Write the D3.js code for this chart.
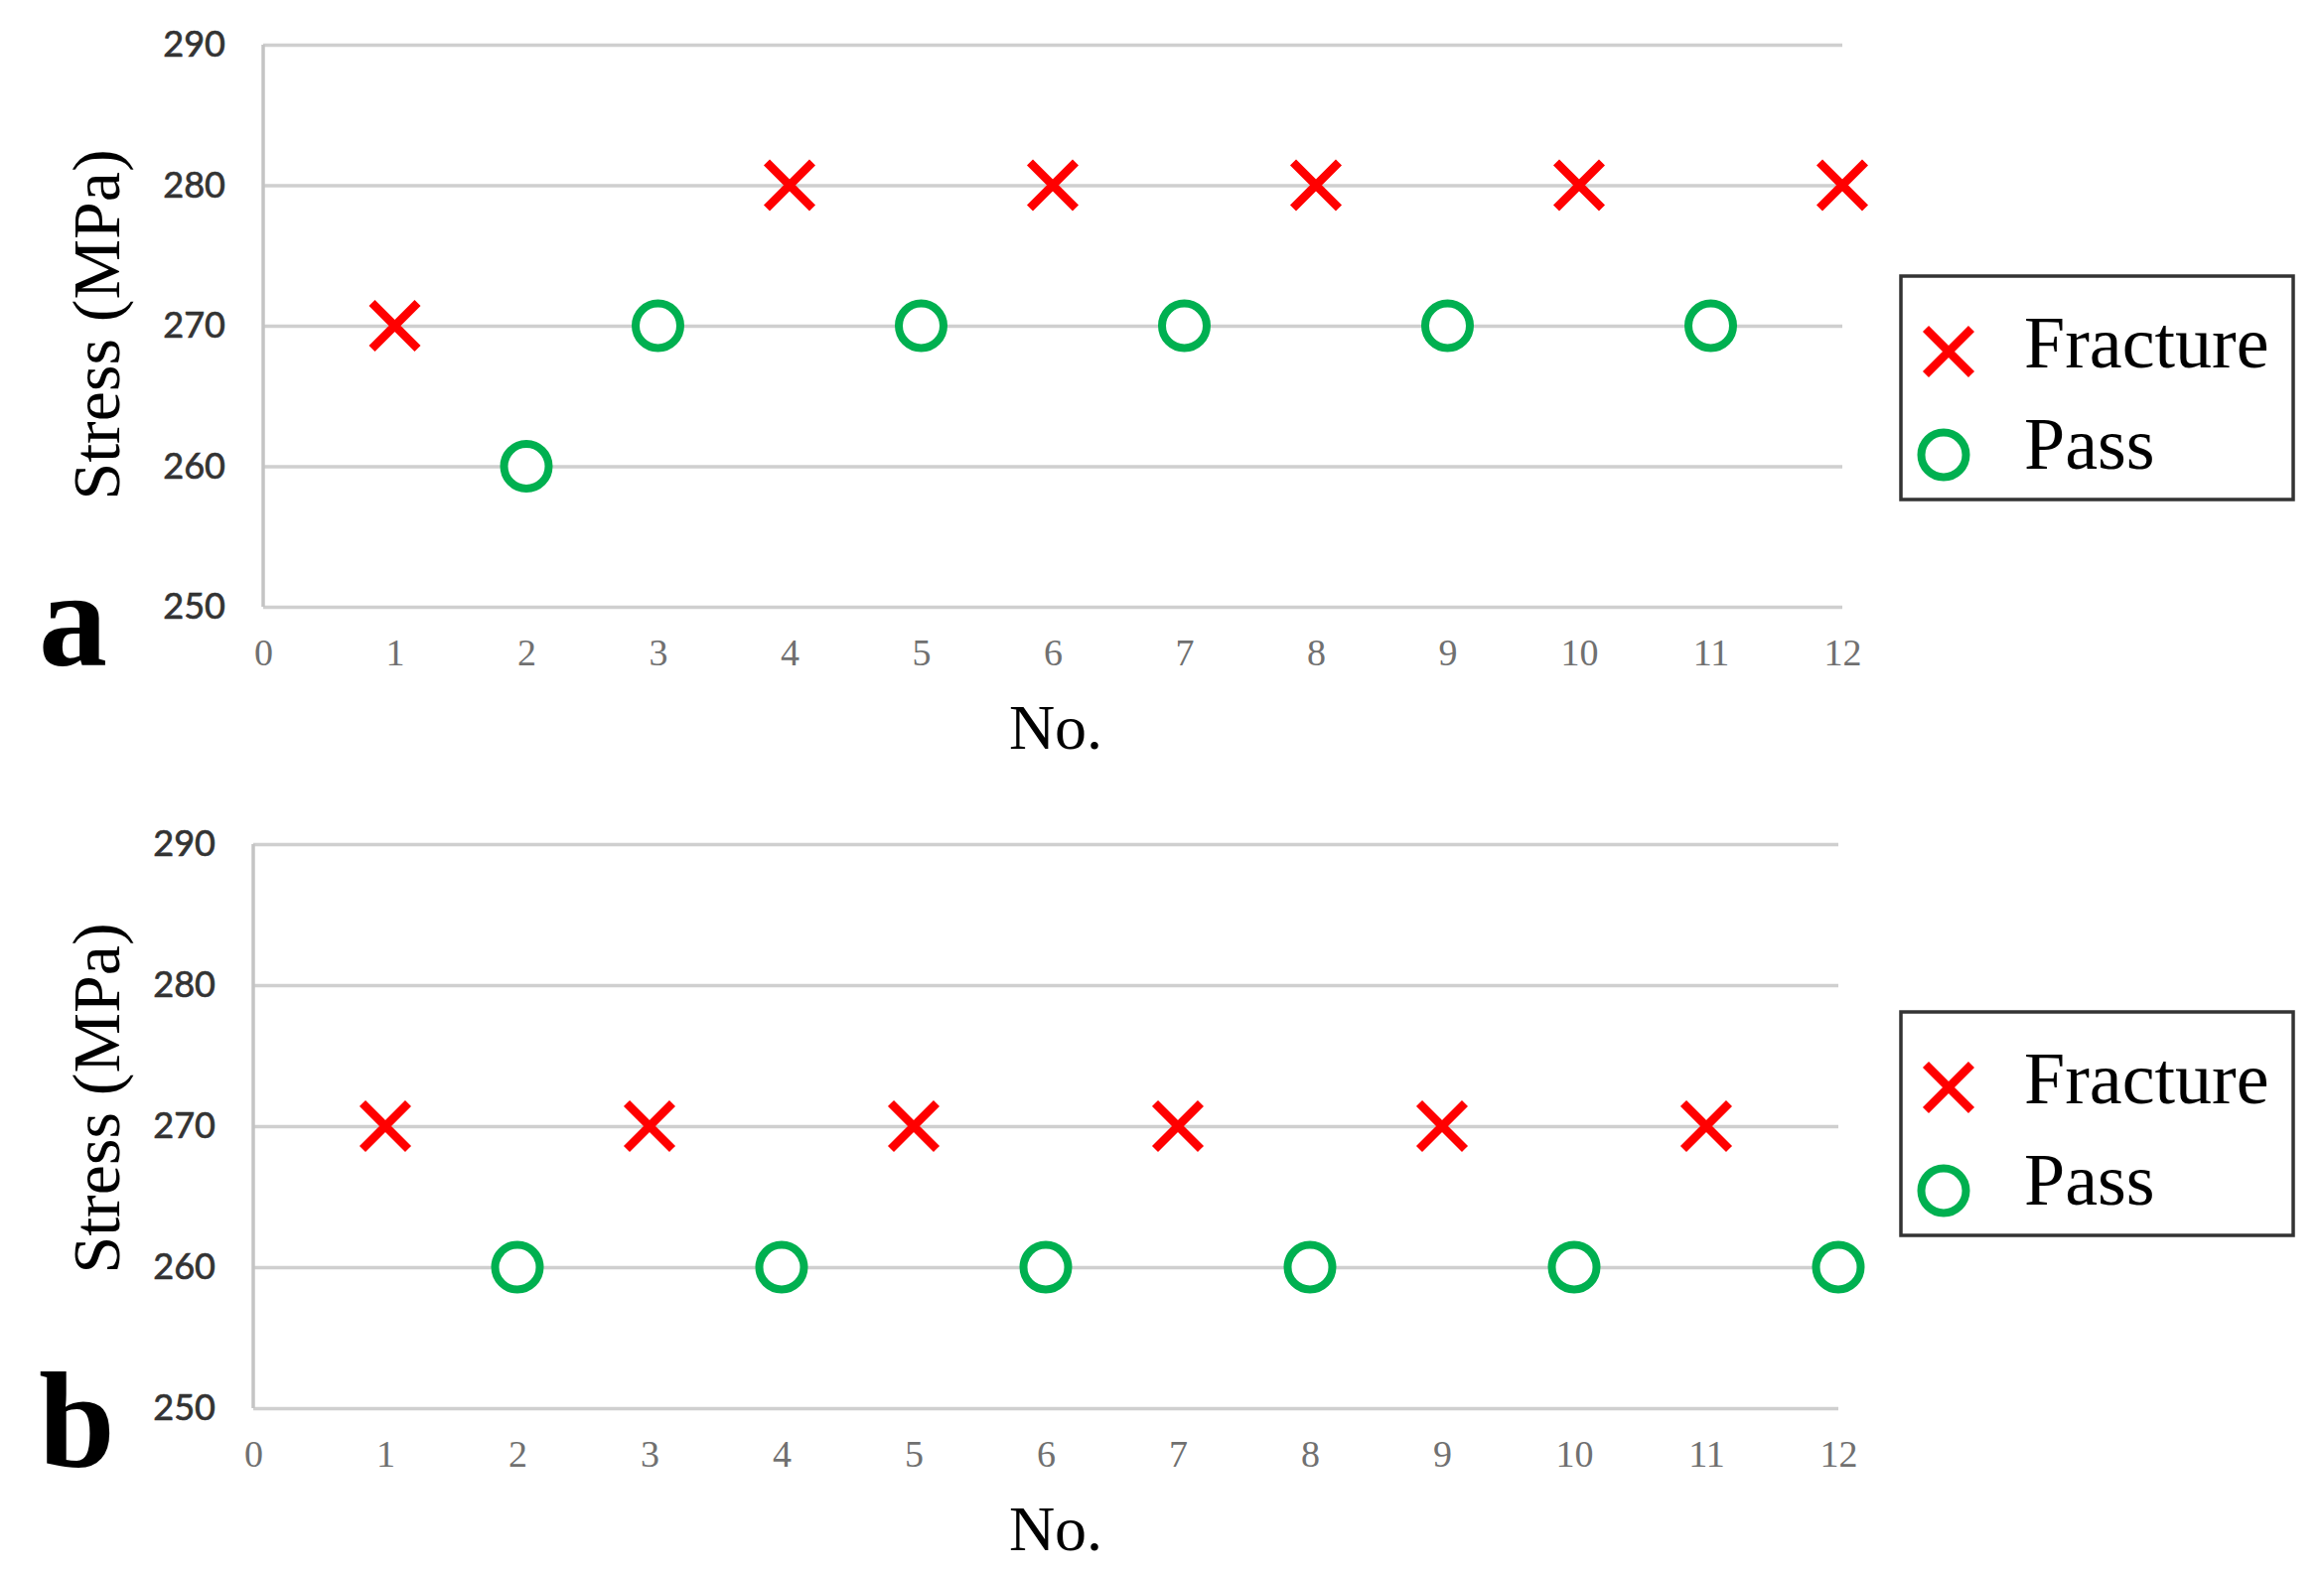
<!DOCTYPE html>
<html>
<head>
<meta charset="utf-8">
<script src="https://cdn.jsdelivr.net/npm/d3@7"></script>
<style>
  body { margin: 0; background: #fff; }
  svg { display: block; }
</style>
</head>
<body>
<div id="chart"></div>
<script>
// test numbers and results
const testNo = [1, 2, 3, 4, 5, 6, 7, 8, 9, 10, 11, 12];
const stressA = [270, 260, 270, 280, 270, 280, 270, 280, 270, 280, 270, 280];
const resultA = ['Fracture', 'Pass', 'Pass', 'Fracture', 'Pass', 'Fracture', 'Pass', 'Fracture', 'Pass', 'Fracture', 'Pass', 'Fracture'];
const stressB = [270, 260, 270, 260, 270, 260, 270, 260, 270, 260, 270, 260];
const resultB = ['Fracture', 'Pass', 'Fracture', 'Pass', 'Fracture', 'Pass', 'Fracture', 'Pass', 'Fracture', 'Pass', 'Fracture', 'Pass'];
const xTicks = [0, 1, 2, 3, 4, 5, 6, 7, 8, 9, 10, 11, 12];
const yTicks = [250, 260, 270, 280, 290];
const legendItems = ['Fracture', 'Pass'];

const width = 2340;
const height = 1586;

const colors = { Fracture: '#ff0000', Pass: '#00b050' };

const svg = d3.select('#chart').append('svg')
  .attr('width', width)
  .attr('height', height);

svg.append('rect').attr('width', width).attr('height', height).attr('fill', '#fff');

// draw one marker (x or ring) into a selection
const drawMarker = (sel, kind) => {
  if (kind === 'Fracture') {
    const s = 23;
    sel.append('path')
      .attr('d', `M${-s},${-s}L${s},${s}M${-s},${s}L${s},${-s}`)
      .attr('stroke', colors.Fracture)
      .attr('stroke-width', 8.5)
      .attr('fill', 'none');
  } else {
    sel.append('circle')
      .attr('r', 22.5)
      .attr('fill', '#fff')
      .attr('stroke', colors.Pass)
      .attr('stroke-width', 8);
  }
};

const makePanel = (p) => {
  const x = d3.scaleLinear().domain([0, 12]).range([p.left, p.right]);
  const y = d3.scaleLinear().domain([250, 290]).range([p.bottom, p.top]);
  const g = svg.append('g');

  // gridlines + y labels
  const yAxis = g.append('g')
    .attr('transform', `translate(${p.left},0)`)
    .call(d3.axisLeft(y).tickValues(yTicks).tickSize(-(p.right - p.left)).tickPadding(38));
  yAxis.select('.domain').remove();
  yAxis.selectAll('line').attr('stroke', '#cfcfcf').attr('stroke-width', 3.5);
  yAxis.selectAll('text')
    .attr('font-family', 'Lato, "Open Sans", sans-serif')
    .attr('font-size', 36)
    .attr('fill', '#333')
    .attr('stroke', '#333')
    .attr('stroke-width', 0.7);

  // vertical axis line
  g.append('line')
    .attr('x1', p.left).attr('x2', p.left)
    .attr('y1', p.top).attr('y2', p.bottom)
    .attr('stroke', '#c4c4c4').attr('stroke-width', 3.5);

  // x labels
  const xAxis = g.append('g')
    .attr('transform', `translate(0,${p.bottom})`)
    .call(d3.axisBottom(x).tickValues(xTicks).tickSize(0));
  xAxis.select('.domain').remove();
  xAxis.selectAll('text')
    .attr('y', 59).attr('dy', 0)
    .attr('font-family', '"Liberation Serif", "Times New Roman", serif')
    .attr('font-size', 38)
    .attr('fill', '#707070');

  // points
  g.append('g').selectAll('g')
    .data(testNo.map((n, i) => ({ n, s: p.stress[i], r: p.result[i] })))
    .enter()
    .append('g')
    .attr('transform', (d) => `translate(${x(d.n)},${y(d.s)})`)
    .each(function (d) { drawMarker(d3.select(this), d.r); });

  // axis titles
  g.append('text')
    .attr('transform', `translate(120,${p.titleY}) rotate(-90)`)
    .attr('text-anchor', 'middle')
    .attr('font-family', '"Liberation Serif", "Times New Roman", serif')
    .attr('font-size', 68)
    .attr('fill', '#000')
    .text('Stress (MPa)');

  g.append('text')
    .attr('x', 1063).attr('y', p.bottom + 143)
    .attr('text-anchor', 'middle')
    .attr('font-family', '"Liberation Serif", "Times New Roman", serif')
    .attr('font-size', 64)
    .attr('fill', '#000')
    .text('No.');

  g.append('text')
    .attr('x', 39).attr('y', p.bottom + 59)
    .attr('font-family', '"Liberation Serif", "Times New Roman", serif')
    .attr('font-weight', 'bold')
    .attr('font-size', 138)
    .attr('fill', '#000')
    .text(p.tag);

  // legend
  const lg = g.append('g').attr('transform', `translate(1914,${p.legendTop})`);
  lg.append('rect')
    .attr('width', 395).attr('height', 225)
    .attr('fill', '#fff')
    .attr('stroke', '#333').attr('stroke-width', 3.5);
  legendItems.forEach((name, i) => {
    const row = lg.append('g').attr('transform', `translate(${i === 0 ? 48 : 43},${76 + i * 104})`);
    drawMarker(row, name);
    lg.append('text')
      .attr('x', 124).attr('y', 92 + i * 102)
      .attr('font-family', '"Liberation Serif", "Times New Roman", serif')
      .attr('font-size', 74)
      .attr('fill', '#000')
      .text(name);
  });
};

makePanel({ tag: 'a', left: 265, right: 1855, top: 45, bottom: 611, titleY: 327, legendTop: 278, stress: stressA, result: resultA });
makePanel({ tag: 'b', left: 255, right: 1851, top: 850, bottom: 1418, titleY: 1106, legendTop: 1019, stress: stressB, result: resultB });
</script>
</body>
</html>
